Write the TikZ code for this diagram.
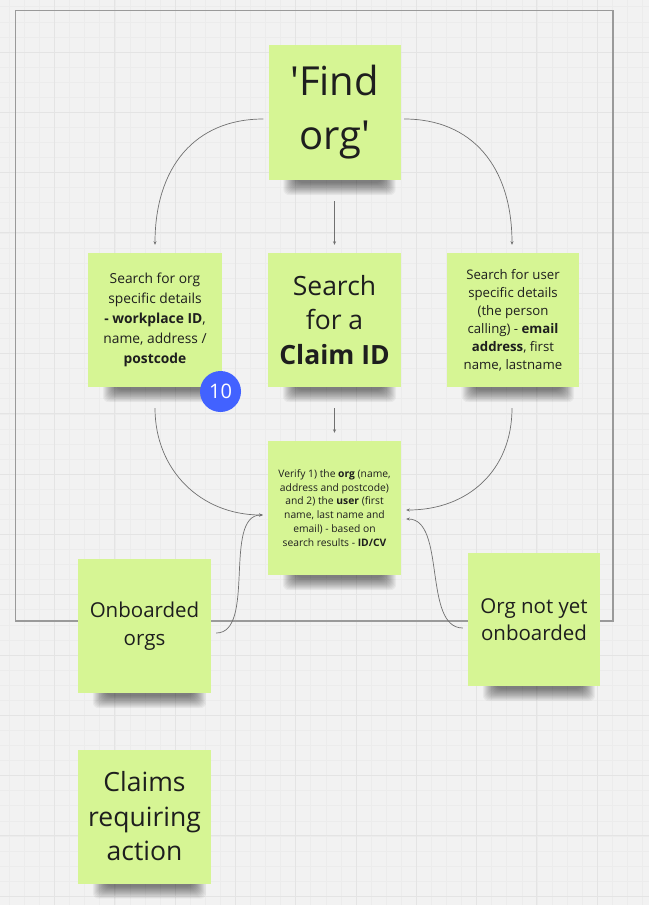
\documentclass[tikz,border=0pt]{standalone}
\usepackage{fontspec}
\newfontfamily\notefont{Open Sans}
\usetikzlibrary{arrows.meta,calc}

\definecolor{canvas}{HTML}{F2F2F2}
\definecolor{gridminor}{HTML}{ECECEC}
\definecolor{gridmajor}{HTML}{E4E4E4}
\definecolor{notegreen}{HTML}{D6F594}
\definecolor{notetext}{HTML}{1E1E1E}
\definecolor{framegray}{HTML}{9A9A9A}
\definecolor{linkgray}{HTML}{707070}
\definecolor{badgeblue}{HTML}{4262FF}

\pgfdeclarelayer{grid}
\pgfdeclarelayer{shade}
\pgfsetlayers{grid,shade,main}

\tikzset{
  sticky/.style={fill=notegreen, text=notetext, inner sep=0pt,
    minimum width=133pt, minimum height=134pt, align=center},
  txtXL/.style={font=\notefont\fontsize{40}{54}\selectfont},
  txtL/.style={font=\notefont\fontsize{26.5}{34.5}\selectfont},
  txtM/.style={font=\notefont\fontsize{20.5}{27.5}\selectfont},
  txtS/.style={font=\notefont\fontsize{13.8}{20}\selectfont},
  txtSs/.style={font=\notefont\fontsize{13.2}{18}\selectfont},
  txtXS/.style={font=\notefont\fontsize{10.3}{13.9}\selectfont},
  link/.style={draw=linkgray, line width=0.7pt,
    -{Stealth[length=3.5pt,width=3pt]}},
  badge/.style={circle, fill=badgeblue, text=white, inner sep=0pt,
    minimum size=41pt, font=\notefont\fontsize{20}{20}\selectfont},
}

% soft shadow under the lower edge of a note
\newcommand\noteshadow[1]{%
  \foreach \k in {0,...,13}{%
    \fill[black, opacity=0.045, rounded corners=6pt]
      ($(#1.south west)+(15+1*\k,-6)$) rectangle
      ($(#1.south east)+(-5-1*\k,15-0.95*\k)$);
  }}

\begin{document}
\begin{tikzpicture}[x=1pt, y=-1pt]
\useasboundingbox (0,0) rectangle (649,905);

% board background with its grid
\begin{pgfonlayer}{grid}
  \begin{scope}
    \clip (0,0) rectangle (649,905);
    \fill[canvas] (0,0) rectangle (649,905);
    \foreach \i in {0,...,44}
      \draw[gridminor, line width=0.6pt] ({-5.8+\i*15.075},0) -- ({-5.8+\i*15.075},905);
    \foreach \j in {0,...,61}
      \draw[gridminor, line width=0.6pt] (0,{-8.3+\j*15.075}) -- (649,{-8.3+\j*15.075});
    \foreach \i in {0,...,11}
      \draw[gridmajor, line width=0.9pt] ({-5.8+\i*60.3},0) -- ({-5.8+\i*60.3},905);
    \foreach \j in {0,...,15}
      \draw[gridmajor, line width=0.9pt] (0,{-8.3+\j*60.3}) -- (649,{-8.3+\j*60.3});
  \end{scope}
\end{pgfonlayer}

% frame
\draw[framegray, line width=1.3pt] (15.3,10.3) rectangle (613,621);

% notes
\node[sticky, txtXL, minimum width=132pt, minimum height=135pt] (find) at (334.5,112.5) {'Find\\org'};
\node[sticky, txtS, minimum width=134pt] (orgsearch) at (155,320)
  {Search for org\\specific details\\\textbf{- workplace ID},\\name, address /\\\textbf{postcode}};
\node[sticky, txtL] (claim) at (334.5,320) {Search\\for a\\\textbf{Claim ID}};
\node[sticky, txtSs, minimum width=132pt] (usersearch) at (513,320)
  {Search for user\\specific details\\(the person\\calling) - \textbf{email}\\\textbf{address}, first\\name, lastname};
\node[sticky, txtXS] (verify) at (334.5,508)
  {Verify 1) the \textbf{org} (name,\\address and postcode)\\and 2) the \textbf{user} (first\\name, last name and\\email) - based on\\search results - \textbf{ID/CV}};
\node[sticky, txtM] (onboarded) at (144.5,626) {Onboarded\\orgs};
\node[sticky, txtL] (claims) at (144.5,816.5) {Claims\\requiring\\action};
\node[sticky, txtM, minimum width=132pt, minimum height=133pt] (notyet) at (534,619.5) {Org not yet\\onboarded};

\node[badge] (count) at (220.5,391.5) {10};

\begin{pgfonlayer}{shade}
  \foreach \n in {find,orgsearch,claim,usersearch,verify,onboarded,claims,notyet}
    {\noteshadow{\n}}
\end{pgfonlayer}

% connectors
\draw[link] ($(find.west)+(-5,6.5)$) .. controls +(-68,0) and +(0,-78) .. ($(orgsearch.north)+(0,-8)$);
\draw[link] ($(find.east)+(3.5,6.5)$) .. controls +(68,0) and +(0,-78) .. ($(usersearch.north)+(-1,-8)$);
\draw[link] ($(find.south)+(0,21)$) -- ($(claim.north)+(0,-8)$);
\draw[link] ($(orgsearch.south)+(0,21)$) .. controls +(0,62) and +(-62,0) .. ($(verify.west)+(-5,7)$);
\draw[link] ($(claim.south)+(0,21)$) -- ($(verify.north)+(0,-8)$);
\draw[link] ($(usersearch.south)+(-1,21)$) .. controls +(0,62) and +(62,0) .. ($(verify.east)+(5,2)$);
\draw[link] ($(onboarded.east)+(5,7)$) .. controls +(40,0) and +(-40,0) .. ($(verify.west)+(-5,7)$);
\draw[link] ($(notyet.west)+(-5,8.5)$) .. controls +(-40,0) and +(40,0) .. ($(verify.east)+(5,11)$);
\end{tikzpicture}
\end{document}
